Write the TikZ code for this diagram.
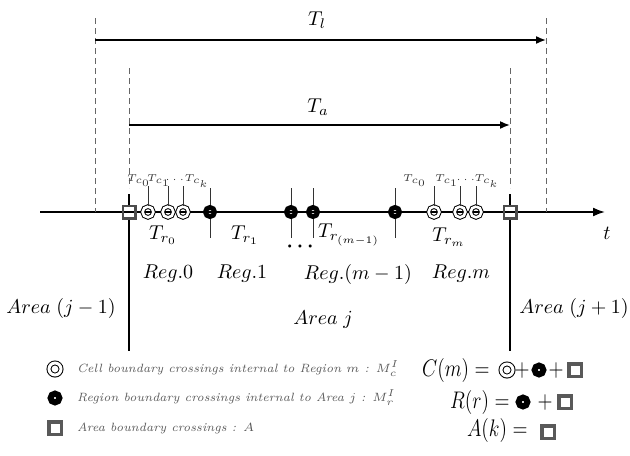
\documentclass[tikz,border=0pt]{standalone}
\usepackage{amsmath,amssymb}
\usepackage{graphicx}
\usepackage{xcolor}
\usepackage{tikz}
\usetikzlibrary{positioning,arrows.meta}

\newcommand{\narrow}[1]{\scalebox{0.82}[1]{#1}}

\begin{document}
\begin{tikzpicture}[
  x=0.5pt, y=-0.5pt,
  cellx/.style={draw, circle, double, double distance=1.3pt, line width=0.5pt,
    minimum size=5.4pt, inner sep=0pt},
  regx/.style={draw, circle, line width=2.4pt, minimum size=4.6pt, inner sep=0pt},
  areax/.style={draw=black!70, rectangle, line width=1.1pt, minimum size=6.4pt,
    inner sep=0pt},
  cellk/.style={cellx, minimum size=6pt, double distance=1.5pt},
  regk/.style={regx, minimum size=4.4pt, line width=3pt},
  areak/.style={areax, minimum size=6.2pt, line width=1.7pt, draw=black!65},
  guide/.style={densely dashed, black!60, line width=0.5pt},
  spanarr/.style={-{Latex[length=5pt,width=4pt]}, line width=0.8pt},
  tk/.style={line width=0.5pt, black!80},
  arealine/.style={line width=1.1pt},
  lbl/.style={font=\normalsize},
  eqn/.style={font=\large, inner sep=0pt},
  tc/.style={font=\fontsize{5}{6}\selectfont, black!80, inner sep=0.5pt},
  lgd/.style={font=\fontsize{6}{7}\selectfont\itshape, black!65, anchor=west},
]
\useasboundingbox (0,0) rectangle (630,455);

% Time axis
\coordinate (ax0) at (40,212);
\coordinate (ax1) at (605,212);
\draw[-{Latex[length=6pt,width=4.5pt]}, line width=0.9pt] (ax0) -- (ax1);
\node[lbl] (t) at (607,233) {$t$};

% Dashed guides
\coordinate (gl) at (95,18);
\coordinate (gr) at (546,18);
\coordinate (hl) at (129,68);
\coordinate (hr) at (510,68);
\foreach \g in {gl,gr}
  \draw[guide] (\g) -- (\g |- ax0);
\foreach \g in {hl,hr}
  \draw[guide] (\g) -- ++(0,120);

% Spans
\draw[spanarr] (gl |- 0,40) coordinate (l0) -- (gr |- 0,40) coordinate (l1);
\node[lbl] (Tl) at (317,20) {$T_l$};
\draw[spanarr] (hl |- 0,125) coordinate (a0) -- (hr |- 0,125) coordinate (a1);
\node[lbl] (Ta) at (318,107) {$T_a$};

% Crossings on the axis
\node[areax] (A0) at (129,212) {};
\node[cellx] (c0) at (148,212) {};
\node[cellx] (c1) at (168,212) {};
\node[cellx] (c2) at (183,212) {};
\node[regx] (r1) at (210,212) {};
\node[regx] (r2) at (291,212) {};
\node[regx] (r3) at (313,212) {};
\node[regx] (r4) at (395,212) {};
\node[cellx] (d0) at (434,212) {};
\node[cellx] (d1) at (460,212) {};
\node[cellx] (d2) at (476,212) {};
\node[areax] (A1) at (510,212) {};

% Ticks
\foreach \c in {c0,c1,c2,d0,d1,d2}
  \draw[tk] (\c.north) -- ++(0,-20);
\foreach \r in {r1,r2,r3,r4} {
  \draw[tk] (\r.north) -- ++(0,-17);
  \draw[tk] (\r.south) -- ++(0,19);
}
\foreach \a in {A0,A1} {
  \draw[arealine] (\a.north) -- ++(0,-11);
  \draw[arealine] (\a.south) -- ++(0,131);
}

% Cell labels
\node[tc] (tc0) at (139,181) {$T_{c_0}$};
\node[tc] (tc1) at (159,181) {$T_{c_1}$};
\node[tc] (tcd) at (176,180) {$\cdots$};
\node[tc] (tck) at (197,181) {$T_{c_k}$};
\node[tc] (uc0) at (415,181) {$T_{c_0}$};
\node[tc] (uc1) at (447,181) {$T_{c_1}$};
\node[tc] (ucd) at (467,180) {$\cdots$};
\node[tc] (uck) at (487,181) {$T_{c_k}$};

% Region times
\node[lbl] (Tr0) at (163,235) {$T_{r_0}$};
\node[lbl] (Tr1) at (245,235) {$T_{r_1}$};
\node[lbl] (dots) at (302,247) {$\boldsymbol{\cdots}$};
\node[lbl] (Trm1) at (349,235) {$T_{r_{(m-1)}}$};
\node[lbl] (Trm) at (449,237) {$T_{r_m}$};

% Regions and areas
\node[lbl] (R0) at (168,274) {$Reg.0$};
\node[lbl] (R1) at (242,274) {$Reg.1$};
\node[lbl] (Rm1) at (358,274) {$Reg.(m-1)$};
\node[lbl] (Rm) at (461,274) {$Reg.m$};
\node[lbl] (Ajm) at (61,308) {$Area\;(j-1)$};
\node[lbl] (Aj) at (323,320) {$Area\;j$};
\node[lbl] (Ajp) at (574,308) {$Area\;(j+1)$};

% Legend
\node[cellk] (k1) at (55,369) {};
\node[regk] (k2) at (55,398) {};
\node[areak] (k3) at (55,428) {};
\node[lgd] (k1t) at (70,369)
  {Cell boundary crossings internal to Region $m$ : $M^I_c$};
\node[lgd] (k2t) at (70,398)
  {Region boundary crossings internal to Area $j$ : $M^I_r$};
\node[lgd] (k3t) at (70,428)
  {Area boundary crossings : $A$};

% Counts
\node[eqn, anchor=east] (Cm) at (490,370) {\narrow{$C(m)=$}};
\node[cellk] (Cm1) at (507,370) {};
\node[eqn] (Cp1) at (522,370) {\narrow{$+$}};
\node[regk] (Cm2) at (539,370) {};
\node[eqn] (Cp2) at (556,370) {\narrow{$+$}};
\node[areak] (Cm3) at (575,370) {};

\node[eqn, anchor=east] (Rr) at (510,402) {\narrow{$R(r)=$}};
\node[regk] (Rr1) at (523,402) {};
\node[eqn] (Rp1) at (545,402) {\narrow{$+$}};
\node[areak] (Rr2) at (565,402) {};

\node[eqn, anchor=east] (Ak) at (528,430) {\narrow{$A(k)=$}};
\node[areak] (Ak1) at (548,432) {};
\end{tikzpicture}
\end{document}
